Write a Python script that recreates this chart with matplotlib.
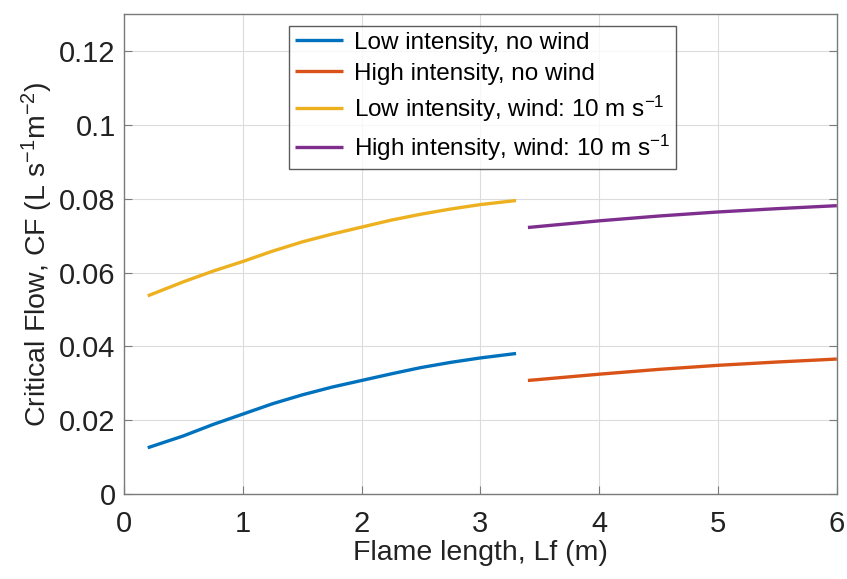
import matplotlib
matplotlib.use("Agg")
import matplotlib.pyplot as plt

plt.rcParams['font.family'] = ['Liberation Sans', 'DejaVu Sans']
plt.rcParams['mathtext.fontset'] = 'custom'
plt.rcParams['mathtext.rm'] = 'Liberation Sans'
plt.rcParams['mathtext.it'] = 'Liberation Sans:italic'
plt.rcParams['mathtext.default'] = 'regular'

# Data
x_low = [0.2, 0.5, 0.75, 1.0, 1.25, 1.5, 1.75, 2.0, 2.25, 2.5, 2.75, 3.0, 3.3]
low_nowind = [0.0126, 0.0158, 0.0189, 0.0217, 0.0245, 0.0269, 0.0290, 0.0308,
              0.0326, 0.0343, 0.0357, 0.0369, 0.0381]
low_wind = [0.0537, 0.0575, 0.0604, 0.0630, 0.0658, 0.0683, 0.0704, 0.0723,
            0.0742, 0.0758, 0.0772, 0.0784, 0.0795]
x_high = [3.4, 4.0, 4.5, 5.0, 5.5, 6.0]
high_nowind = [0.0308, 0.0325, 0.0338, 0.0349, 0.0358, 0.0366]
high_wind = [0.0722, 0.0740, 0.0753, 0.0764, 0.0773, 0.0781]

labels = ["Low intensity, no wind", "High intensity, no wind",
          "Low intensity, wind: 10 m s$^{\u22121}$",
          "High intensity, wind: 10 m s$^{\u22121}$"]
colors = ["#0072BD", "#D95319", "#EDB120", "#7E2F8E"]
xticks = [0, 1, 2, 3, 4, 5, 6]
yticks = [0, 0.02, 0.04, 0.06, 0.08, 0.1, 0.12]
yticklabels = ["0", "0.02", "0.04", "0.06", "0.08", "0.1", "0.12"]

fig = plt.figure(figsize=(8.47, 5.79), dpi=100)
ax = fig.add_axes([0.1464, 0.1463, 0.988 - 0.1464, 0.976 - 0.1463])

series = [(x_low, low_nowind), (x_high, high_nowind), (x_low, low_wind), (x_high, high_wind)]
for (xs, ys), lab, c in zip(series, labels, colors):
    ax.plot(xs, ys, color=c, lw=2.4, label=lab, solid_capstyle='butt')

ax.set_xlim(0, 6)
ax.set_ylim(0, 0.13)
ax.set_xticks(xticks)
ax.set_yticks(yticks)
ax.set_yticklabels(yticklabels)
ax.grid(True, color="#dcdcdc", lw=0.8)
ax.set_axisbelow(True)
for s in ax.spines.values():
    s.set_color("#7a7a7a")
    s.set_linewidth(1.0)
ax.tick_params(direction="in", length=6, color="#7a7a7a", labelsize=21,
               labelcolor="#222222", top=False, right=True)
ax.tick_params(axis='x', pad=11)
ax.tick_params(axis='y', pad=6)

ax.set_xlabel("Flame length, Lf (m)", fontsize=20.5, color="#222222", labelpad=2)
ax.set_ylabel("Critical Flow, CF (L s$^{\u22121}$m$^{\u22122}$)", fontsize=20.5,
              color="#222222", labelpad=3)

leg = ax.legend(loc="upper left", bbox_to_anchor=(0.231, 0.975), fontsize=17.5,
                frameon=True, fancybox=False, edgecolor="#333333",
                handlelength=2.0, handletextpad=0.45, borderpad=0.25,
                labelspacing=0.36, borderaxespad=0)
leg.get_frame().set_linewidth(1.0)

fig.savefig("out.png", dpi=100)
